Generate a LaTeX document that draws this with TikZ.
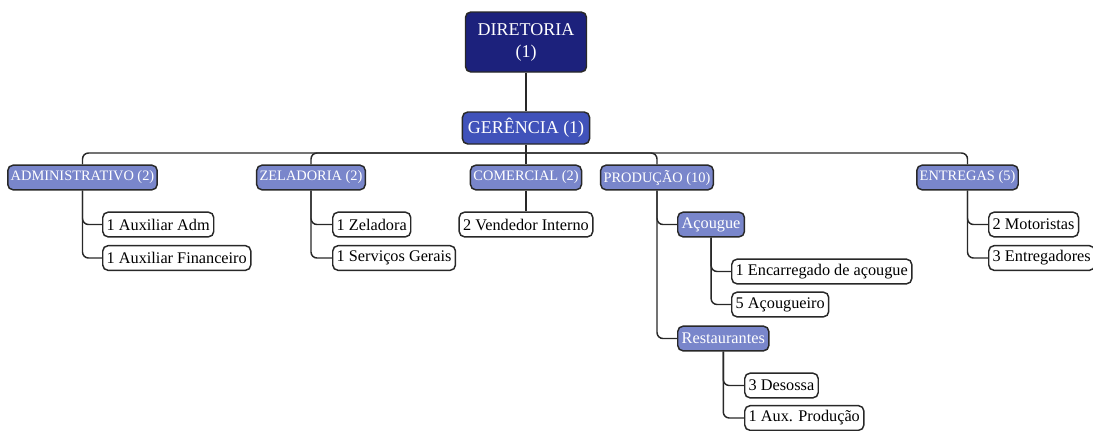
\documentclass[tikz,border=0pt]{standalone}
\usepackage{fontspec}
\setmainfont{Liberation Serif}
\usepackage{tikz}
\usetikzlibrary{positioning, calc}
\usepackage{xcolor}
\definecolor{dirblue}{RGB}{28,33,124}
\definecolor{gerblue}{RGB}{64,82,186}
\definecolor{secblue}{RGB}{121,134,203}
\definecolor{edge}{RGB}{40,40,40}

\begin{document}
\begin{tikzpicture} [x=0.75pt, y=-0.75pt,
    box/.style={draw=edge, line width=1.1pt, rectangle, rounded corners=4pt, inner xsep=3pt, inner ysep=0pt, minimum height=18.5pt},
    top/.style={box, fill=dirblue, text=white, font=\fontsize{13.5}{16.5}\selectfont, align=center, minimum width=90.75pt, minimum height=45pt},
    mgr/.style={box, fill=gerblue, text=white, font=\fontsize{13.5}{16}\selectfont, inner xsep=4pt, minimum height=24pt},
    dept/.style={box, fill=secblue, text=white, font=\fontsize{10.8}{12}\selectfont, inner xsep=2.2pt},
    sub/.style={box, fill=secblue, text=white, font=\fontsize{12.2}{14}\selectfont},
    leaf/.style={box, fill=white, font=\fontsize{12.2}{14}\selectfont},
    conn/.style={draw=edge, line width=1.1pt, rounded corners=4.5pt}]
        \useasboundingbox (0,0) rectangle (1093,430);
        % Nodes
        \node[top] (dir) at (526,42) {DIRETORIA\\(1)};
        \node[mgr] (ger) at (526,128) {GERÊNCIA (1)};
        \coordinate (bus) at (526,153);
        \node[dept] (adm) at (82.5,177.5) {ADMINISTRATIVO (2)};
        \node[dept] (zel) at (311,177.5) {ZELADORIA (2)};
        \node[dept] (com) at (526,177.5) {COMERCIAL (2)};
        \node[dept] (prod) at (657,177.5) {PRODUÇÃO (10)};
        \node[dept] (ent) at (967.5,177.5) {ENTREGAS (5)};

        \node[leaf, anchor=west] (auxadm) at (102,224.5) {1 Auxiliar Adm};
        \node[leaf, anchor=west] (auxfin) at (102,258) {1 Auxiliar Financeiro};
        \node[leaf, anchor=west] (zelad) at (332,224.5) {1 Zeladora};
        \node[leaf, anchor=west] (servg) at (332,258) {1 Serviços Gerais};
        \node[leaf] (vend) at (526,224.5) {2 Vendedor Interno};
        \node[sub, anchor=west] (acou) at (677,224.5) {Açougue};
        \node[leaf, anchor=west] (encar) at (731,271.5) {1 Encarregado de açougue};
        \node[leaf, anchor=west] (acoug) at (731,304.5) {5 Açougueiro};
        \node[sub, anchor=west] (rest) at (677,338.5) {Restaurantes};
        \node[leaf, anchor=west] (desos) at (744,385.5) {3 Desossa};
        \node[leaf, anchor=west] (auxprod) at (744,418) {1 Aux. Produção};
        \node[leaf, anchor=west] (motor) at (988,224.5) {2 Motoristas};
        \node[leaf, anchor=west] (entreg) at (988,258) {3 Entregadores};

        % Connectors
        \draw[conn] (dir) -- (ger);
        \draw[conn] (ger) -- (com);
        \draw[conn] (adm.north) |- (bus) -| (ent.north);
        \draw[conn] (zel.north) |- (bus);
        \draw[conn] (prod.north) |- (bus);
        \draw[conn] (adm.south) |- (auxadm.west);
        \draw[conn] (adm.south) |- (auxfin.west);
        \draw[conn] (zel.south) |- (zelad.west);
        \draw[conn] (zel.south) |- (servg.west);
        \draw[conn] (com) -- (vend);
        \draw[conn] (prod.south) |- (acou.west);
        \draw[conn] (prod.south) |- (rest.west);
        \draw[conn] (acou.south) |- (encar.west);
        \draw[conn] (acou.south) |- (acoug.west);
        \draw[conn] (rest.south) |- (desos.west);
        \draw[conn] (rest.south) |- (auxprod.west);
        \draw[conn] (ent.south) |- (motor.west);
        \draw[conn] (ent.south) |- (entreg.west);
    \end{tikzpicture}
\end{document}
